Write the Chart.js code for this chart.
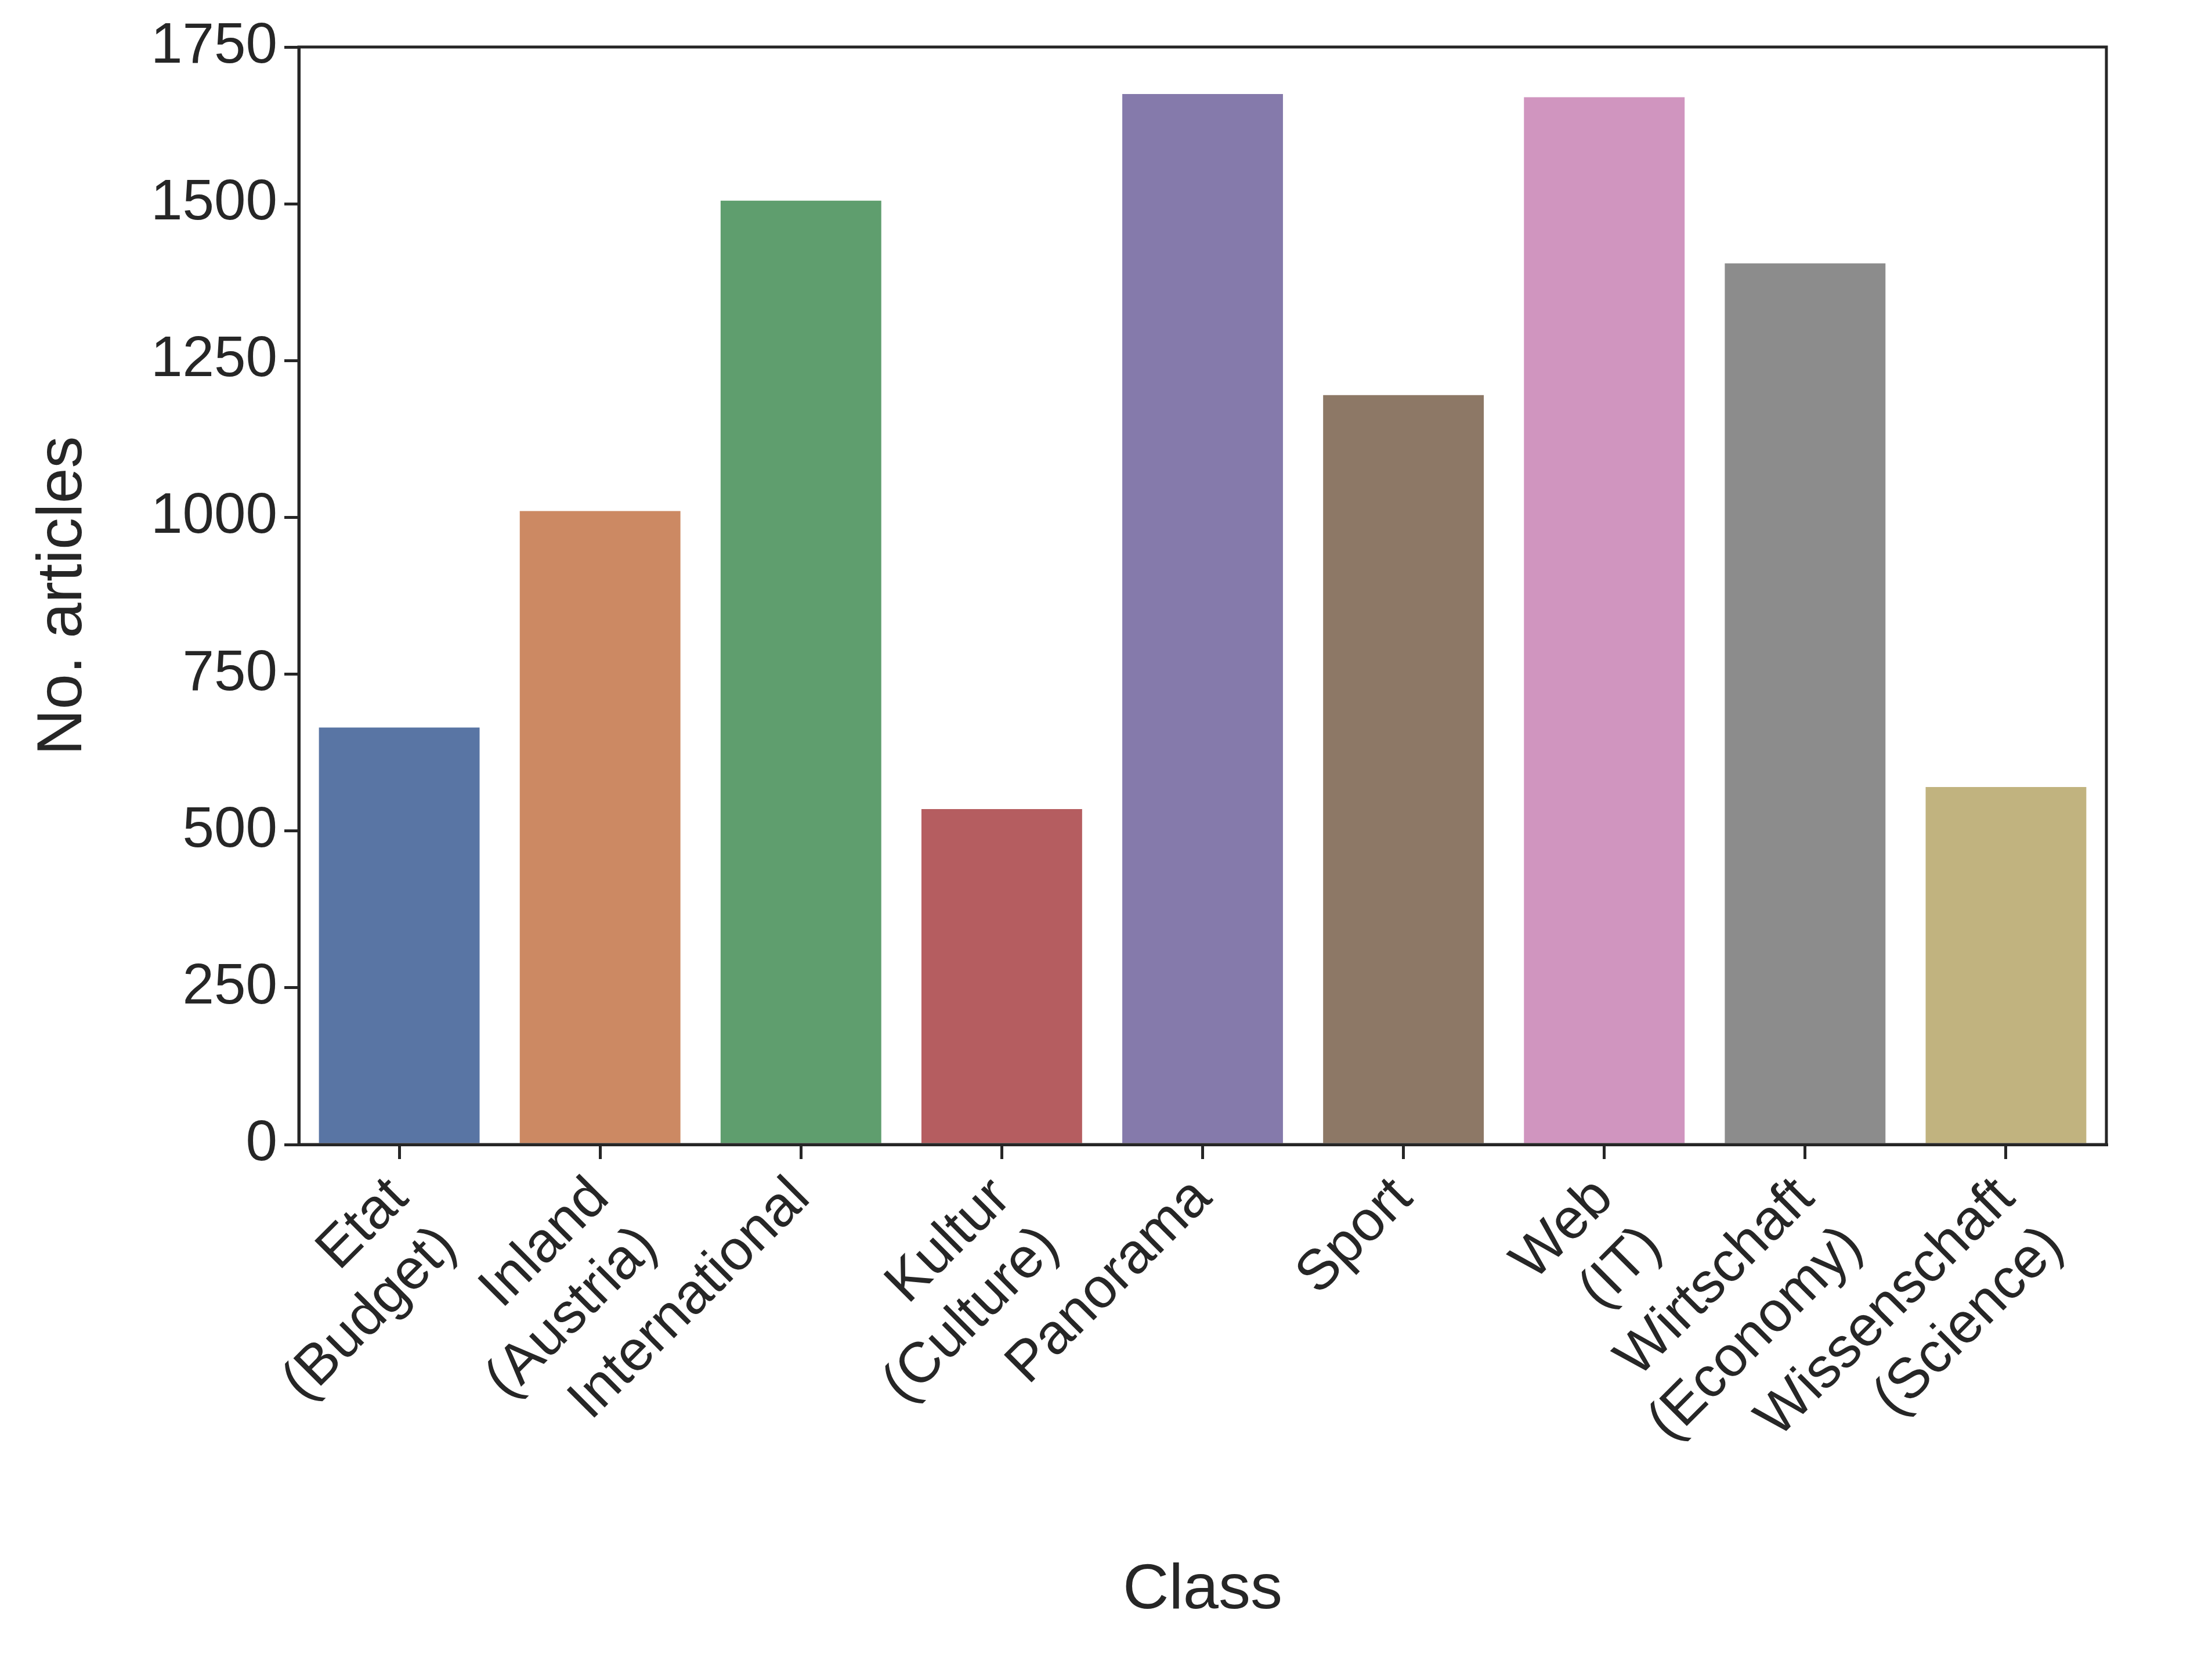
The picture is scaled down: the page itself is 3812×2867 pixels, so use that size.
<!DOCTYPE html>
<html><head><meta charset="utf-8">
<script src="https://cdn.jsdelivr.net/npm/chart.js@4"></script>
<style>html,body{margin:0;padding:0;background:#fff}</style>
</head><body>
<canvas id="c" width="3812" height="2867"></canvas>
<script>
const categories = [["Etat","(Budget)"],["Inland","(Austria)"],"International",["Kultur","(Culture)"],"Panorama","Sport",["Web","(IT)"],["Wirtschaft","(Economy)"],["Wissenschaft","(Science)"]];
const counts = [665, 1010, 1505, 535, 1675, 1195, 1670, 1405, 570];
const colors = ["#5975a4","#cc8963","#5f9e6e","#b55d60","#857aab","#8d7866","#d095bf","#8c8c8c","#c1b37f"];
const yTicks = [0,250,500,750,1000,1250,1500,1750];
const ink = '#262626';
const F = 'Arial, Liberation Sans';
const frame = {id:'frame', afterDraw(c){const a=c.chartArea,x=c.ctx;x.save();x.strokeStyle=ink;x.lineWidth=5;x.strokeRect(a.left,a.top,a.right-a.left,a.bottom-a.top);x.restore();}};
new Chart(document.getElementById('c'), {
  type:'bar',
  data:{labels:categories, datasets:[{data:counts, backgroundColor:colors, categoryPercentage:0.8, barPercentage:1.0}]},
  options:{
    responsive:false, devicePixelRatio:1, animation:false,
    layout:{padding:{left:40,right:182,top:81,bottom:0}},
    plugins:{legend:{display:false}, tooltip:{enabled:false}},
    scales:{
      x:{afterFit(s){s.height=895;},
         grid:{display:true,offset:false,drawOnChartArea:false,drawTicks:true,tickLength:25,tickColor:ink,lineWidth:5},
         border:{color:ink,width:5},
         ticks:{color:ink,font:{family:F,size:98},minRotation:45,maxRotation:45,padding:10},
         title:{display:true,text:'Class',color:ink,font:{family:F,size:110},padding:{top:40,bottom:60}}},
      y:{min:0,max:1750,afterBuildTicks(s){s.ticks=yTicks.map(v=>({value:v}));},
         afterFit(s){s.width=475;},
         grid:{display:true,drawOnChartArea:false,drawTicks:true,tickLength:25,tickColor:ink,lineWidth:5},
         border:{color:ink,width:5},
         ticks:{color:ink,font:{family:F,size:98},padding:12,callback:v=>String(v)},
         title:{display:true,text:'No. articles',color:ink,font:{family:F,size:110},padding:{bottom:40}}}
    }
  },
  plugins:[frame]
});
</script>
</body></html>
